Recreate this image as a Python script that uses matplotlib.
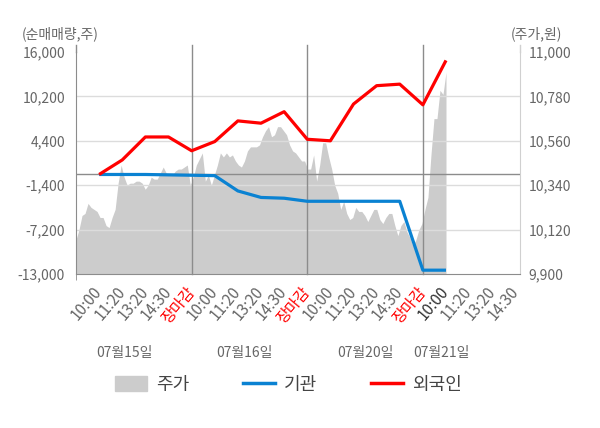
import numpy as np
import matplotlib
matplotlib.use('Agg')
import matplotlib.pyplot as plt
from matplotlib.patches import Patch
from matplotlib.lines import Line2D

plt.rcParams['font.family'] = ['Noto Sans CJK KR', 'DejaVu Sans']

#%% data

time_labels = ['10:00', '11:20', '13:20', '14:30', '장마감'] * 3 + ['10:00', '11:20', '13:20', '14:30']
dates = ['07월15일', '07월16일', '07월20일', '07월21일']

# 누적 순매매량 (주), 07/15 10:00 ~ 07/21 10:00
inst = [0, 0, 0, -50, -100, -150, -2150, -3000, -3100, -3500,
        -3500, -3500, -3500, -3500, -12500, -12500]
foreign = [0, 1900, 4900, 4900, 3100, 4300, 7000, 6700, 8200, 4600,
           4400, 9200, 11600, 11800, 9100, 14900]

# 주가 (원)
price = [10070, 10120, 10190, 10200, 10250, 10230, 10220, 10210, 10180, 10180,
         10140, 10130, 10180, 10220, 10350, 10440, 10380, 10340, 10350, 10350,
         10360, 10360, 10350, 10320, 10340, 10380, 10370, 10370, 10400, 10430,
         10400, 10390, 10390, 10410, 10420, 10420, 10430, 10440, 10340, 10380,
         10440, 10470, 10500, 10360, 10390, 10340, 10390, 10440, 10500, 10480,
         10500, 10480, 10490, 10460, 10440, 10430, 10460, 10510, 10530, 10530,
         10530, 10540, 10580, 10610, 10630, 10580, 10590, 10630, 10630, 10610,
         10590, 10540, 10510, 10500, 10480, 10460, 10460, 10420, 10420, 10490,
         10360, 10440, 10550, 10550, 10480, 10420, 10340, 10300, 10220, 10260,
         10200, 10170, 10180, 10230, 10210, 10210, 10190, 10160, 10190, 10220,
         10220, 10170, 10150, 10180, 10200, 10200, 10140, 10090, 10140, 10160,
         10110, 10080, 10040, 10070, 10120, 10150, 10220, 10280, 10490, 10670,
         10670, 10810, 10790, 10900]

left_ticks = [-13000, -7200, -1400, 4400, 10200, 16000]
right_ticks = [9900, 10120, 10340, 10560, 10780, 11000]

#%% figure

grey_txt = '#666666'
line_grey = '#8c8c8c'

fig = plt.figure(figsize=(6, 4.28), dpi=100)
ax = fig.add_axes([76 / 600, 154 / 428, 444 / 600, 222 / 428])
ax2 = ax.twinx()

# 주가 영역은 뒤쪽 축에
ax2.set_facecolor('#f4f4f4')
price_x = np.linspace(0, 16, len(price))
ax2.fill_between(price_x, right_ticks[0], price, color='#cccccc', lw=0)
ax2.set_ylim(right_ticks[0], right_ticks[-1])
ax2.set_yticks(right_ticks)
ax2.set_yticklabels([f'{v:,}' for v in right_ticks])

ax.set_zorder(ax2.get_zorder() + 1)
ax.patch.set_visible(False)

x = np.arange(1, len(inst) + 1)
ax.plot(x, inst, color='#0a82d2', lw=2.3, solid_capstyle='butt', zorder=5)
ax.plot(x, foreign, color='#ff0000', lw=2.3, solid_capstyle='butt', zorder=6)

ax.set_ylim(left_ticks[0], left_ticks[-1])
ax.set_xlim(0, 19.2)
ax.set_yticks(left_ticks)
ax.set_yticklabels([f'{v:,}' for v in left_ticks])

# 그리드
for v in left_ticks[1:-1]:
    ax.axhline(v, color='#dcdcdc', lw=1, zorder=1)
ax.axhline(0, color=line_grey, lw=1, zorder=2)
for d in [5, 10, 15]:
    ax.axvline(d, ymin=0, ymax=1.03, color=line_grey, lw=1, zorder=2, clip_on=False)

# 축
ax.spines['top'].set_visible(False)
ax2.spines['top'].set_visible(False)
ax.spines['right'].set_visible(False)
ax2.spines['left'].set_visible(False)
ax2.spines['bottom'].set_visible(False)
ax.spines['left'].set_color(line_grey)
ax.spines['bottom'].set_color(line_grey)
ax2.spines['right'].set_color('#d0d0d0')
ax.plot([0, 0], [1, 1.03], transform=ax.transAxes, color=line_grey, lw=1, clip_on=False)
ax.plot([1, 1], [1, 1.03], transform=ax.transAxes, color='#d0d0d0', lw=1, clip_on=False)

ax.tick_params(axis='y', length=0, pad=8, labelsize=10, labelcolor=grey_txt)
ax2.tick_params(axis='y', length=0, pad=6, labelsize=10, labelcolor=grey_txt)

ax.set_xticks(np.arange(1, 20))
ax.set_xticklabels(time_labels, rotation=50, ha='right', va='center',
                   rotation_mode='anchor', fontsize=11)
ax.set_xticks([0, 5, 10, 15], minor=True)
ax.tick_params(axis='x', which='major', length=0, pad=11)
ax.tick_params(axis='x', which='minor', length=4, color=line_grey)
for i, t in enumerate(ax.get_xticklabels()):
    if time_labels[i] == '장마감':
        t.set_color('#ff0000')
    elif i == 15:
        t.set_color('#333333')
    else:
        t.set_color(grey_txt)

# 날짜
for pos, d in zip([2.1, 7.3, 12.5, 15.8], dates):
    ax.text(pos, -0.355, d, transform=ax.get_xaxis_transform(), ha='center',
            va='center', fontsize=10, color=grey_txt)

fig.text(22 / 600, 1 - 34 / 428, '(순매매량,주)', ha='left', va='center',
         fontsize=10, color=grey_txt)
fig.text(562 / 600, 1 - 34 / 428, '(주가,원)', ha='right', va='center',
         fontsize=10, color=grey_txt)

handles = [Patch(color='#cccccc'),
           Line2D([], [], color='#0a82d2', lw=2.5),
           Line2D([], [], color='#ff0000', lw=2.5)]
fig.legend(handles, ['주가', '기관', '외국인'], loc='center', bbox_to_anchor=(0.481, 0.10),
           ncol=3, frameon=False, fontsize=13, handlelength=1.75, handleheight=0.9,
           handletextpad=0.5, columnspacing=3.0, labelcolor='#444444')

fig.savefig('out.png', dpi=100)
